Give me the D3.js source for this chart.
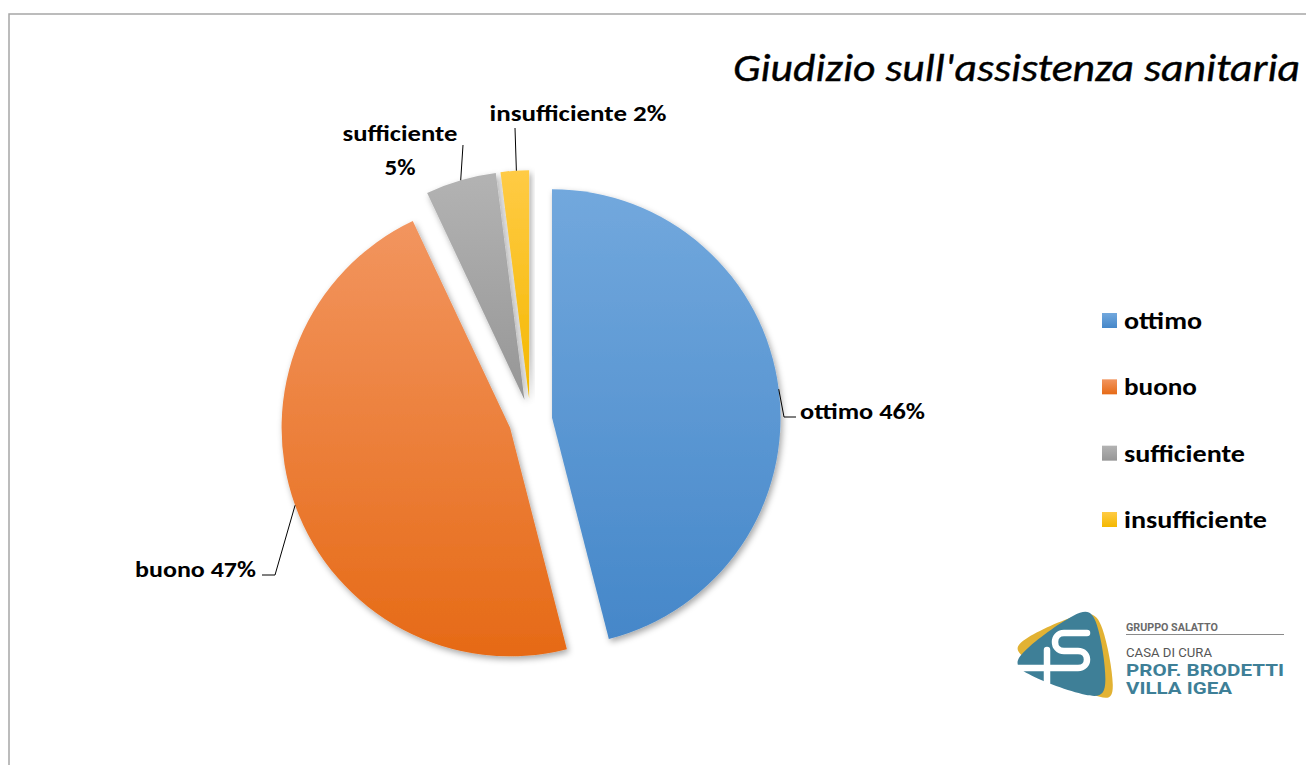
<!DOCTYPE html>
<html>
<head>
<meta charset="utf-8">
<script src="https://cdn.jsdelivr.net/npm/d3@7"></script>
<style>
  html, body { margin: 0; padding: 0; background: #fff; }
  svg { display: block; }
</style>
</head>
<body>
<svg id="chart" width="1306" height="765"></svg>
<script>
// data
const categories = ["ottimo", "buono", "sufficiente", "insufficiente"];
const percents = [46, 47, 5, 2];
const colorTop = ["#72a8dd", "#f2955f", "#b3b3b3", "#ffcb45"];
const colorBottom = ["#4587c9", "#e66a16", "#969696", "#f4b800"];
const titleText = "Giudizio sull'assistenza sanitaria";

const W = 1306, H = 765;
const font = "Carlito, Calibri, Lato, 'Open Sans', sans-serif";
const svg = d3.select("#chart");
const defs = svg.append("defs");

// frame lines
svg.append("path")
  .attr("d", `M9,${H} V14 H${W}`)
  .attr("fill", "none")
  .attr("stroke", "#a6a6a6")
  .attr("stroke-width", 1.5);

// title
svg.append("text")
  .attr("x", 733)
  .attr("y", 81)
  .attr("font-family", font)
  .attr("font-style", "italic")
  .attr("font-size", 39)
  .attr("textLength", 567)
  .attr("lengthAdjust", "spacingAndGlyphs")
  .attr("fill", "#000")
  .attr("stroke", "#000")
  .attr("stroke-width", 0.4)
  .text(titleText);

// gradients + shadow
categories.forEach((c, i) => {
  const g = defs.append("linearGradient")
    .attr("id", "grad" + i)
    .attr("x1", 0).attr("y1", 0).attr("x2", 0).attr("y2", 1);
  g.append("stop").attr("offset", "0%").attr("stop-color", colorTop[i]);
  g.append("stop").attr("offset", "100%").attr("stop-color", colorBottom[i]);
});
const shadow = defs.append("filter").attr("id", "shadow")
  .attr("x", "-20%").attr("y", "-20%").attr("width", "140%").attr("height", "140%");
shadow.append("feDropShadow")
  .attr("dx", 2).attr("dy", 3)
  .attr("stdDeviation", 3)
  .attr("flood-color", "#000")
  .attr("flood-opacity", 0.35);

// pie
const cx = 530.5, cy = 420.5, radius = 228.5, explode = 21.7;
const pie = d3.pie().sort(null).value((d) => d.v);
const arcs = pie(categories.map((c, i) => ({ c, v: percents[i], i })));
const arc = d3.arc().innerRadius(0).outerRadius(radius);

function offset(a) {
  const m = (a.startAngle + a.endAngle) / 2;
  return [explode * Math.sin(m), -explode * Math.cos(m)];
}

const pieG = svg.append("g").attr("transform", `translate(${cx},${cy})`);
pieG.selectAll("path")
  .data(arcs)
  .join("path")
  .attr("transform", (d) => `translate(${offset(d)})`)
  .attr("d", arc)
  .attr("fill", (d) => `url(#grad${d.data.i})`)
  .attr("filter", "url(#shadow)");

// labels with leader lines
function edgePoint(a, ang) {
  const o = offset(a);
  const m = ang === undefined ? (a.startAngle + a.endAngle) / 2 : ang;
  return [cx + o[0] + radius * Math.sin(m), cy + o[1] - radius * Math.cos(m)];
}

const deg = Math.PI / 180;
const labelLayout = [
  { ang: undefined, elbow: [[784, 417], [796, 417]], lines: [`${categories[0]} ${percents[0]}%`], w: [125], x: 800, y: [419], anchor: "start" },
  { ang: undefined, elbow: [[275, 575], [262, 575]], lines: [`${categories[1]} ${percents[1]}%`], w: [121], x: 256, y: [577], anchor: "end" },
  { ang: undefined, elbow: [[463, 145]], lines: [categories[2], `${percents[2]}%`], w: [115, 31], x: 400, y: [141, 175], anchor: "middle" },
  { ang: 356.8 * deg, elbow: [[515, 128]], lines: [`${categories[3]} ${percents[3]}%`], w: [177], x: 578, y: [121], anchor: "middle" }
];

const lineGen = d3.line();
arcs.forEach((a, i) => {
  const L = labelLayout[i];
  const pts = [edgePoint(a, L.ang)].concat(L.elbow);
  svg.append("path")
    .attr("d", lineGen(pts))
    .attr("fill", "none")
    .attr("stroke", "#000")
    .attr("stroke-width", 1);
  L.lines.forEach((t, k) => {
    svg.append("text")
      .attr("x", L.x)
      .attr("y", L.y[k])
      .attr("text-anchor", L.anchor)
      .attr("font-family", font)
      .attr("font-weight", "bold")
      .attr("font-size", 23)
      .attr("textLength", L.w[k])
      .attr("lengthAdjust", "spacingAndGlyphs")
      .attr("fill", "#000")
      .text(t);
  });
});

// legend
const legendW = [78, 73, 121, 143];
const legendY = d3.scalePoint().domain(categories).range([321, 520]);
const legend = svg.append("g");
categories.forEach((c, i) => {
  const y = legendY(c);
  legend.append("rect")
    .attr("x", 1102).attr("y", y - 8)
    .attr("width", 15).attr("height", 15)
    .attr("fill", `url(#grad${i})`);
  legend.append("text")
    .attr("x", 1124).attr("y", y + 8)
    .attr("font-family", font)
    .attr("font-weight", "bold")
    .attr("font-size", 25)
    .attr("textLength", legendW[i])
    .attr("lengthAdjust", "spacingAndGlyphs")
    .attr("fill", "#000")
    .text(c);
});

// logo: rounded triangles built from their corners
const logo = svg.append("g");
const teal = "#3e7f97", gold = "#e2b233";
const blob = d3.line().curve(d3.curveBasisClosed);
function roundTri(v, t) {
  const pts = [];
  for (let k = 0; k < 3; k++) {
    const a = v[k], b = v[(k + 1) % 3];
    pts.push([a[0] + (b[0] - a[0]) * t, a[1] + (b[1] - a[1]) * t]);
    pts.push([a[0] + (b[0] - a[0]) * (1 - t), a[1] + (b[1] - a[1]) * (1 - t)]);
  }
  return blob(pts);
}
logo.append("path")
  .attr("d", roundTri([[1000, 648], [1100, 603], [1120, 711]], 0.13))
  .attr("fill", gold);
logo.append("path")
  .attr("d", roundTri([[1000, 666], [1095, 597], [1112, 707]], 0.14))
  .attr("fill", teal);
logo.append("path")
  .attr("d", "M1018,668 H1078 C1090,668 1090,651 1078,651 H1064 C1052,651 1052,633 1064,633 H1087 M1047,650 V683")
  .attr("fill", "none").attr("stroke", "#fff")
  .attr("stroke-width", 6.5).attr("stroke-linecap", "round").attr("stroke-linejoin", "round");

const logoFont = "Roboto, 'Liberation Sans', Arial, sans-serif";
logo.append("text").attr("x", 1126).attr("y", 631)
  .attr("font-family", logoFont).attr("font-weight", "bold").attr("font-size", 11)
  .attr("textLength", 92).attr("lengthAdjust", "spacingAndGlyphs")
  .attr("fill", "#6a6a6a").text("GRUPPO SALATTO");
logo.append("line").attr("x1", 1126).attr("x2", 1284).attr("y1", 634.5).attr("y2", 634.5)
  .attr("stroke", "#8a8a8a").attr("stroke-width", 1);
logo.append("text").attr("x", 1126).attr("y", 657)
  .attr("font-family", logoFont).attr("font-size", 13)
  .attr("textLength", 86).attr("lengthAdjust", "spacingAndGlyphs")
  .attr("fill", "#555").text("CASA DI CURA");
logo.append("text").attr("x", 1126).attr("y", 676)
  .attr("font-family", logoFont).attr("font-weight", "bold").attr("font-size", 17)
  .attr("textLength", 158).attr("lengthAdjust", "spacingAndGlyphs")
  .attr("fill", teal).text("PROF. BRODETTI");
logo.append("text").attr("x", 1126).attr("y", 694)
  .attr("font-family", logoFont).attr("font-weight", "bold").attr("font-size", 17)
  .attr("textLength", 106).attr("lengthAdjust", "spacingAndGlyphs")
  .attr("fill", teal).text("VILLA IGEA");
</script>
</body>
</html>
